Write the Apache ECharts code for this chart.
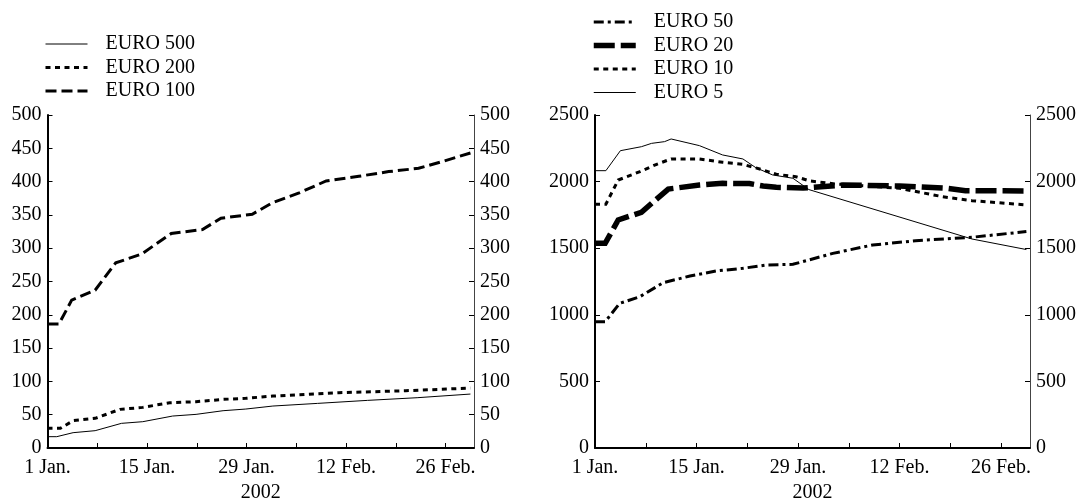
<!DOCTYPE html>
<html>
<head>
<meta charset="utf-8">
<script src="https://cdn.jsdelivr.net/npm/echarts@6/dist/echarts.min.js"></script>
<style>
html,body{margin:0;padding:0;background:#fff;}
#chart{width:1080px;height:499px;}
</style>
</head>
<body>
<div id="chart"></div>
<script>
// x values are days since 1 Jan. 2002
const xTickDays = [0, 14, 28, 42, 56];
const xTickLabels = ['1 Jan.', '15 Jan.', '29 Jan.', '12 Feb.', '26 Feb.'];
const xAxisTitle = '2002';

// Left panel (EURO 500, 200, 100)
const euro500 = [[0,17],[1.3,17],[3.6,23],[6.7,26],[10.4,37],[13.4,39.5],[17.6,48],[20.9,50.5],[24.7,56],[27.9,58.5],[31.7,63],[38,67],[45,71.5],[52,75.5],[59.5,81]];
const euro200 = [[0,29.5],[1.8,29.5],[3.6,41],[6.7,44.5],[10.2,58],[13.4,61],[17.2,68],[20.9,69.5],[24.7,73],[27.9,74.6],[31.7,78],[36.4,80.6],[41,83],[45.7,84.5],[50.4,86],[55,88],[59.5,90]];
const euro100 = [[0,186],[1.6,186],[3.4,222],[6.7,237],[9.6,278],[13.2,291],[17.4,322],[21.8,328],[24.4,345],[28.8,351],[31.6,368],[35.4,383],[39.2,401],[43.8,408],[48,415],[52.2,420],[55.5,430],[59.5,443]];

// Right panel (EURO 50, 20, 10, 5)
const euro50 = [[0,948],[1.4,948],[3.4,1086],[6.2,1136],[9.4,1241],[13.1,1291],[16.7,1329],[20.4,1349],[23.6,1374],[27.3,1379],[32.8,1461],[38.3,1524],[44.2,1556],[52,1582],[59.5,1625]];
const euro20 = [[0,1537],[1.4,1537],[3.2,1712],[6.4,1770],[10.1,1944],[14.4,1974],[17.6,1987],[21.3,1985],[23.2,1967],[25,1957],[28.7,1952],[34.2,1974],[42,1967],[48.4,1950],[51.1,1932],[59.5,1930]];
const euro10 = [[0,1830],[1.5,1830],[3.2,2012],[6.2,2075],[8.5,2130],[10.5,2170],[14.4,2170],[17.6,2145],[20.4,2130],[23.2,2087],[25,2055],[27.7,2037],[29.6,2005],[33.2,1982],[42,1950],[47.9,1887],[52,1857],[59.5,1825]];
const euro5 = [[0,2082],[1.5,2082],[3.5,2232],[6.4,2262],[7.8,2287],[9.6,2300],[10.5,2320],[14.4,2270],[17.6,2200],[20.4,2170],[22.2,2104],[24.5,2050],[27.3,2025],[29.5,1940],[52,1569],[59.5,1490]];

const FONT = 'Liberation Serif';
const FS = 20;
const txt = {fontFamily: FONT, fontSize: FS, color: '#000'};

function xAxisFor(gridIndex) {
  return {
    type: 'value', gridIndex: gridIndex, min: 0, max: 60, interval: 7,
    name: xAxisTitle, nameLocation: 'middle', nameGap: 33,
    nameTextStyle: Object.assign({}, txt),
    axisLine: {show: true, lineStyle: {color: '#000', width: 2}},
    axisTick: {show: true, inside: true, length: 5, lineStyle: {color: '#000', width: 1}},
    splitLine: {show: false},
    axisLabel: Object.assign({}, txt, {
      margin: 10, showMaxLabel: false,
      formatter: function (v) { const i = xTickDays.indexOf(v); return i >= 0 ? xTickLabels[i] : ''; }
    })
  };
}
function yAxisFor(gridIndex, max, interval, pos) {
  const left = pos === 'left';
  return {
    type: 'value', gridIndex: gridIndex, min: 0, max: max, interval: interval, position: pos,
    axisLine: {show: true, lineStyle: {color: left ? '#000' : '#444', width: left ? 2 : 1}},
    axisTick: {show: true, inside: true, length: 5, lineStyle: {color: '#000', width: 1}},
    splitLine: {show: false},
    axisLabel: Object.assign({}, txt, {margin: 6, formatter: function (v) { return String(v); }})
  };
}
function line(name, data, xi, yi, width, type) {
  return {
    name: name, type: 'line', xAxisIndex: xi, yAxisIndex: yi, data: data,
    symbol: 'none', showSymbol: false, smooth: false, animation: false,
    lineStyle: {color: '#000', width: width, type: type, cap: 'butt', join: 'miter'},
    itemStyle: {color: '#000'},
    emphasis: {disabled: true}
  };
}
function legendFor(left, top, names) {
  return {
    orient: 'vertical', left: left, top: top, padding: 0,
    itemWidth: 42, itemHeight: 14, itemGap: 3.5,
    selectedMode: false,
    itemStyle: {opacity: 0, color: 'transparent', borderWidth: 0},
    lineStyle: {width: 'inherit'},
    textStyle: Object.assign({}, txt, {padding: [0, 0, 0, 13]}),
    data: names
  };
}

const chart = echarts.init(document.getElementById('chart'), null, {renderer: 'canvas'});
chart.setOption({
  backgroundColor: '#fff',
  animation: false,
  legend: [
    legendFor(44, 34, ['EURO 500', 'EURO 200', 'EURO 100']),
    legendFor(591, 12, ['EURO 50', 'EURO 20', 'EURO 10', 'EURO 5'])
  ],
  grid: [
    {left: 47.5, top: 115, width: 426.5, height: 333, containLabel: false, outerBoundsMode: 'none'},
    {left: 595, top: 115, width: 435, height: 333, containLabel: false, outerBoundsMode: 'none'}
  ],
  xAxis: [xAxisFor(0), xAxisFor(1)],
  yAxis: [
    yAxisFor(0, 500, 50, 'left'), yAxisFor(0, 500, 50, 'right'),
    yAxisFor(1, 2500, 500, 'left'), yAxisFor(1, 2500, 500, 'right')
  ],
  series: [
    line('EURO 500', euro500, 0, 0, 1, 'solid'),
    line('EURO 200', euro200, 0, 0, 3, [5, 4.5]),
    line('EURO 100', euro100, 0, 0, 3, [11, 5]),
    line('EURO 50', euro50, 1, 2, 3, [10, 4, 3, 4]),
    line('EURO 20', euro20, 1, 2, 5.5, [21, 6]),
    line('EURO 10', euro10, 1, 2, 3, [5, 4.5]),
    line('EURO 5', euro5, 1, 2, 1, 'solid')
  ]
});
</script>
</body>
</html>
